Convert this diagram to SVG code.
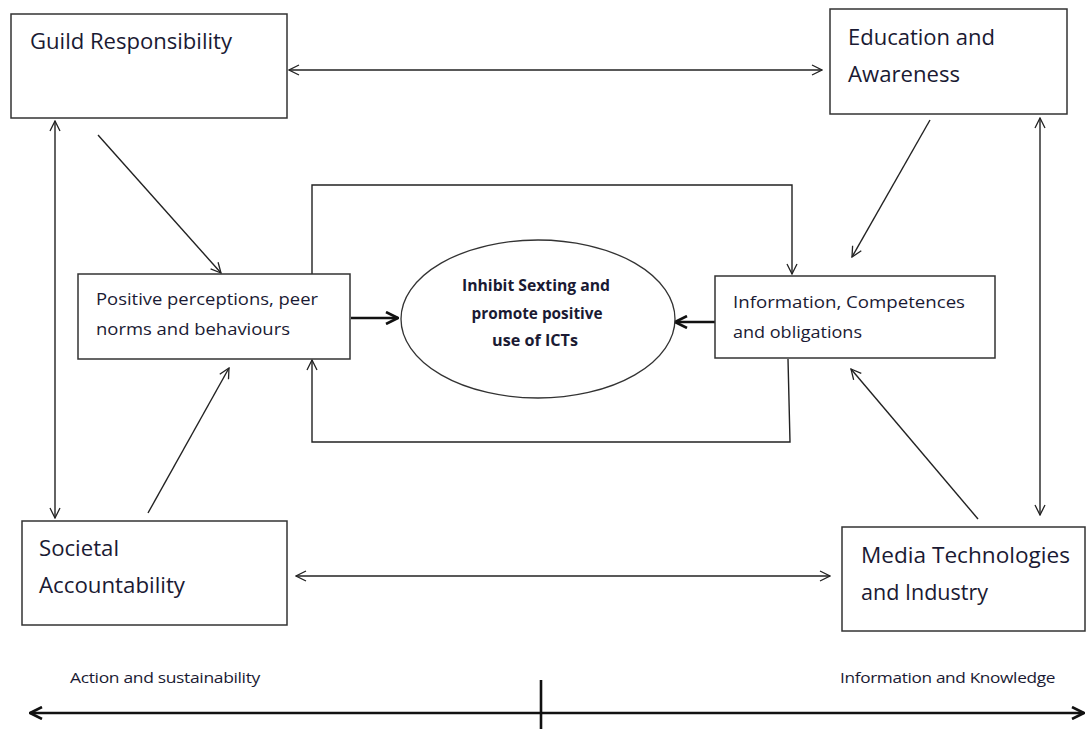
<svg xmlns="http://www.w3.org/2000/svg" width="1087" height="729" viewBox="0 0 1087 729">
<defs>
<marker id="v" viewBox="0 0 12 12" refX="11" refY="6" markerWidth="12" markerHeight="12" markerUnits="userSpaceOnUse" orient="auto-start-reverse">
<path d="M1,1 L11,6 L1,11" fill="none" stroke="#222" stroke-width="1.3"/>
</marker>
<marker id="vb" viewBox="0 0 14 14" refX="13" refY="7" markerWidth="14" markerHeight="14" markerUnits="userSpaceOnUse" orient="auto-start-reverse">
<path d="M1,1 L13,7 L1,13" fill="none" stroke="#111" stroke-width="2.6"/>
</marker>
</defs>
<style>
.box{fill:#fff;stroke:#333;stroke-width:1.5}
.t{font-family:"Open Sans","Liberation Sans",sans-serif;fill:#1a1a33}
.big{font-size:21px}
.sm{font-size:16px}
.b{font-weight:bold;font-size:16px}
.ax{font-size:15px;letter-spacing:-0.3px}
.ln{fill:none;stroke:#222;stroke-width:1.4}
.th{fill:none;stroke:#111;stroke-width:2.6}
</style>
<rect width="1087" height="729" fill="#fff"/>
<g id="connectors">
<line class="ln" x1="289" y1="70" x2="822" y2="70" marker-start="url(#v)" marker-end="url(#v)"/>
<line class="ln" x1="296" y1="576" x2="830" y2="576" marker-start="url(#v)" marker-end="url(#v)"/>
<line class="ln" x1="55" y1="121" x2="55" y2="518" marker-start="url(#v)" marker-end="url(#v)"/>
<line class="ln" x1="1040" y1="118" x2="1040" y2="515" marker-start="url(#v)" marker-end="url(#v)"/>
<line class="ln" x1="98" y1="135" x2="221" y2="273" marker-end="url(#v)"/>
<line class="ln" x1="148" y1="513" x2="229" y2="368" marker-end="url(#v)"/>
<line class="ln" x1="930" y1="120" x2="852" y2="257" marker-end="url(#v)"/>
<line class="ln" x1="978" y1="519" x2="851" y2="369" marker-end="url(#v)"/>
<polyline class="ln" points="312,274 312,185 792,185 792,274" marker-end="url(#v)"/>
<polyline class="ln" points="788,359 790,442 312,442 312,360" marker-end="url(#v)"/>
<line class="th" x1="351" y1="318" x2="398" y2="318" marker-end="url(#vb)"/>
<line class="th" x1="715" y1="322" x2="675" y2="322" marker-end="url(#vb)"/>
</g>
<g id="guild">
<rect class="box" x="11" y="14" width="276" height="104"/>
<text class="t big" x="30" y="49" textLength="202" lengthAdjust="spacingAndGlyphs">Guild Responsibility</text>
</g>
<g id="education">
<rect class="box" x="830" y="9" width="237" height="105"/>
<text class="t big" x="848" y="45" textLength="147" lengthAdjust="spacingAndGlyphs">Education and</text>
<text class="t big" x="848" y="82" textLength="112" lengthAdjust="spacingAndGlyphs">Awareness</text>
</g>
<g id="positive">
<rect class="box" x="78" y="274" width="272" height="85"/>
<text class="t sm" x="96" y="305" textLength="222" lengthAdjust="spacingAndGlyphs">Positive perceptions, peer</text>
<text class="t sm" x="96" y="335" textLength="194" lengthAdjust="spacingAndGlyphs">norms and behaviours</text>
</g>
<g id="goal">
<ellipse cx="538" cy="319" rx="137" ry="79" fill="#fff" stroke="#333" stroke-width="1.3"/>
<text class="t b" x="536" y="291" text-anchor="middle" textLength="148" lengthAdjust="spacingAndGlyphs">Inhibit Sexting and</text>
<text class="t b" x="537" y="319" text-anchor="middle" textLength="131" lengthAdjust="spacingAndGlyphs">promote positive</text>
<text class="t b" x="535" y="346" text-anchor="middle" textLength="86" lengthAdjust="spacingAndGlyphs">use of ICTs</text>
</g>
<g id="information">
<rect class="box" x="715" y="276" width="280" height="82"/>
<text class="t sm" x="733" y="308" textLength="232" lengthAdjust="spacingAndGlyphs">Information, Competences</text>
<text class="t sm" x="733" y="338" textLength="129" lengthAdjust="spacingAndGlyphs">and obligations</text>
</g>
<g id="societal">
<rect class="box" x="22" y="521" width="265" height="104"/>
<text class="t big" x="39" y="556" textLength="80" lengthAdjust="spacingAndGlyphs">Societal</text>
<text class="t big" x="39" y="593" textLength="146" lengthAdjust="spacingAndGlyphs">Accountability</text>
</g>
<g id="media">
<rect class="box" x="842" y="527" width="243" height="104"/>
<text class="t big" x="861" y="563" textLength="209" lengthAdjust="spacingAndGlyphs">Media Technologies</text>
<text class="t big" x="861" y="600" textLength="127" lengthAdjust="spacingAndGlyphs">and Industry</text>
</g>
<g id="axis">
<line class="th" x1="30" y1="713" x2="1084" y2="713" marker-start="url(#vb)" marker-end="url(#vb)"/>
<line class="th" x1="541" y1="680" x2="541" y2="729"/>
<text class="t ax" x="70" y="683" textLength="190" lengthAdjust="spacingAndGlyphs">Action and sustainability</text>
<text class="t ax" x="840" y="683" textLength="215" lengthAdjust="spacingAndGlyphs">Information and Knowledge</text>
</g>
</svg>
